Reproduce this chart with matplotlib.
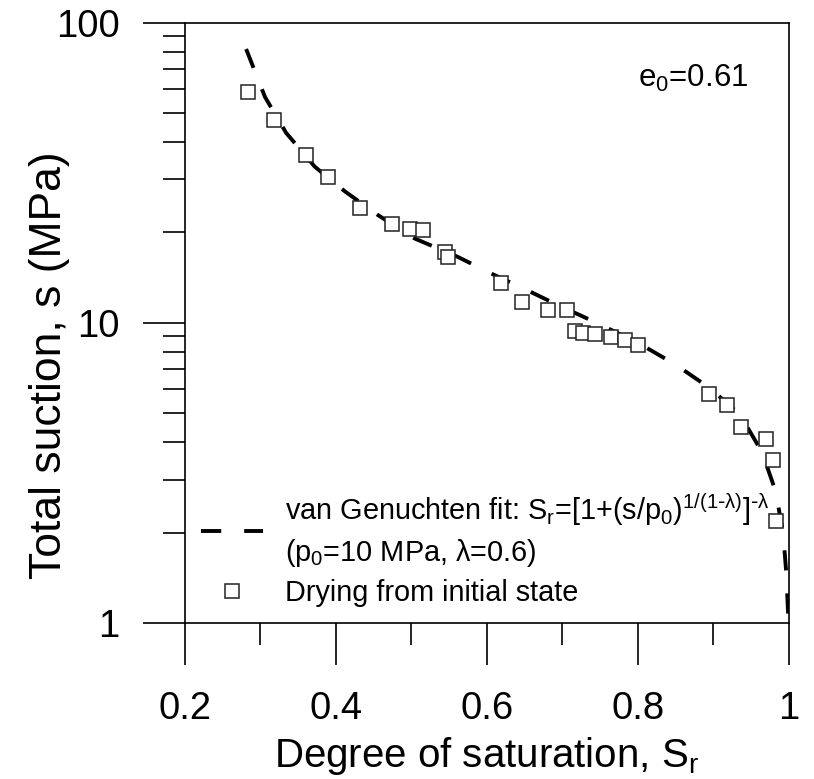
import matplotlib
matplotlib.use("Agg")
import matplotlib.pyplot as plt
from matplotlib.ticker import FixedLocator, LogLocator, NullFormatter

plt.rcParams['font.family'] = ['Liberation Sans', 'DejaVu Sans']
plt.rcParams['mathtext.default'] = 'regular'

# measured points: drying from initial state
sr_dry = [0.284, 0.318, 0.361, 0.389, 0.432, 0.474, 0.498, 0.515, 0.544, 0.549,
          0.619, 0.647, 0.681, 0.706, 0.717, 0.728, 0.744, 0.765, 0.783, 0.800,
          0.894, 0.919, 0.937, 0.970, 0.979, 0.984]
s_dry = [58.5, 47.2, 36.3, 30.5, 24.2, 21.4, 20.5, 20.3, 17.2, 16.6,
         13.6, 11.75, 11.0, 11.0, 9.39, 9.27, 9.17, 8.94, 8.74, 8.43,
         5.80, 5.33, 4.50, 4.11, 3.50, 2.18]

# van Genuchten curve
sr_fit = [0.281, 0.306, 0.334, 0.372, 0.411, 0.455, 0.505, 0.561, 0.603, 0.653,
          0.694, 0.753, 0.810, 0.850, 0.896, 0.936, 0.965, 0.983, 0.993, 0.997, 1.0]
s_fit = [81.6, 56.5, 42.9, 33.1, 27.5, 22.9, 19.05, 16.6, 14.7, 12.85,
         11.46, 9.80, 8.30, 7.26, 6.05, 4.93, 3.70, 2.74, 1.98, 1.47, 1.0]

xticks = [0.2, 0.4, 0.6, 0.8, 1.0]
xtick_labels = ['0.2', '0.4', '0.6', '0.8', '1']
yticks = [1, 10, 100]
ytick_labels = ['1', '10', '100']

fit_label = (r'van Genuchten fit: S$_r$=[1+(s/p$_0$)$^{1/(1\text{-}λ)}$]$^{\text{-}λ}$' '\n'
             r'(p$_0$=10 MPa, λ=0.6)')
dry_label = 'Drying from initial state'

fig = plt.figure(figsize=(8.14, 7.79), dpi=100)
ax = fig.add_axes([0.2273, 0.2003, 0.7414, 0.7708])

ax.plot(sr_fit, s_fit, color='black', lw=2.8, dashes=(5.2, 5.9),
        label=fit_label, zorder=2)
ax.plot(sr_dry, s_dry, ls='none', marker='s', ms=9.8, mfc='white',
        mec='#222222', mew=1.1, label=dry_label, zorder=3)

ax.set_yscale('log')
ax.set_xlim(0.2, 1.0)
ax.set_ylim(1, 100)

ax.xaxis.set_major_locator(FixedLocator(xticks))
ax.set_xticklabels(xtick_labels)
ax.xaxis.set_minor_locator(FixedLocator([0.3, 0.5, 0.7, 0.9]))
ax.yaxis.set_major_locator(FixedLocator(yticks))
ax.set_yticklabels(ytick_labels)
ax.yaxis.set_minor_locator(LogLocator(base=10, subs=range(2, 10)))
ax.yaxis.set_minor_formatter(NullFormatter())

ax.tick_params(which='major', direction='out', length=30, width=1.2,
               labelsize=27.5, pad=17)
ax.tick_params(axis='x', which='major', pad=19)
ax.tick_params(which='minor', direction='out', length=15.5, width=1.2)
ax.tick_params(top=False, right=False, which='both')
for sp in ax.spines.values():
    sp.set_linewidth(1.2)

ax.set_xlabel('Degree of saturation, S$_r$', fontsize=29)
ax.set_ylabel('Total suction, s (MPa)', fontsize=32)
ax.xaxis.set_label_coords(0.5, -0.187)
ax.yaxis.set_label_coords(-0.19, 0.429)

ax.text(0.933, 0.893, 'e$_0$=0.61', transform=ax.transAxes, fontsize=22.5,
        ha='right', va='baseline')

leg = ax.legend(loc='lower left', bbox_to_anchor=(0.027, 0.026), frameon=False,
                fontsize=20.8, handlelength=2.15, handletextpad=0.76,
                labelspacing=0.35, borderpad=0, borderaxespad=0)
for t in leg.get_texts():
    t.set_linespacing(1.38)

fig.savefig('out.png', dpi=100)
